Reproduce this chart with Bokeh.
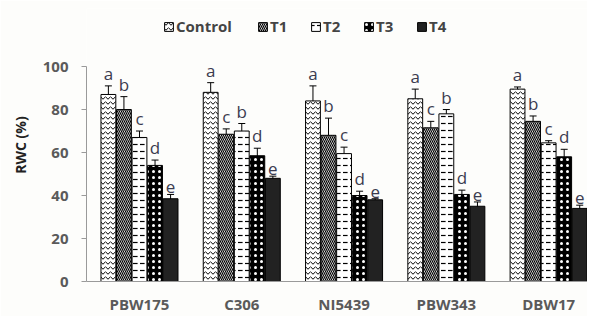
from bokeh.plotting import figure
from bokeh.models import (Range1d, FixedTicker, Whisker, ColumnDataSource, Legend,
                          LegendItem, Label, TeeHead)
from bokeh.core.properties import value
from bokeh.embed import file_html
from bokeh.resources import INLINE

# ---------------- data ----------------
categories = ["PBW175", "C306", "NI5439", "PBW343", "DBW17"]
treatments = ["Control", "T1", "T2", "T3", "T4"]

control = [87, 88, 84, 85, 89.5]
t1 = [80, 68.5, 68, 71.5, 74.5]
t2 = [67, 70, 59.5, 78, 64.5]
t3 = [54, 58.5, 40, 40.5, 58]
t4 = [38.5, 48, 38, 35, 34]

err_control = [4, 4.5, 7, 4.5, 1]
err_t1 = [6, 2.5, 8, 3, 2.5]
err_t2 = [3, 3.5, 3, 2, 1]
err_t3 = [2.5, 3.5, 2, 2, 3.5]
err_t4 = [2, 1, 0.5, 2, 1.5]

let_control = ["a", "a", "a", "a", "a"]
let_t1 = ["b", "c", "b", "c", "b"]
let_t2 = ["c", "b", "c", "b", "c"]
let_t3 = ["d", "d", "d", "d", "d"]
let_t4 = ["e", "e", "e", "e", "e"]

y_ticks = [0, 20, 40, 60, 80, 100]

values = [control, t1, t2, t3, t4]
errors = [err_control, err_t1, err_t2, err_t3, err_t4]
letters = [let_control, let_t1, let_t2, let_t3, let_t4]

# ---------------- styles ----------------
FONT = "Open Sans"
AX = "#9a9a9a"
styles = [
    dict(fill_color="white", hatch_pattern="horizontal_wave", hatch_color="black", hatch_scale=5, hatch_weight=1),
    dict(fill_color="white", hatch_pattern="left_diagonal_line", hatch_color="black", hatch_scale=4, hatch_weight=1.2),
    dict(fill_color="white", hatch_pattern="horizontal_dash", hatch_color="black", hatch_scale=7, hatch_weight=1.2),
    dict(fill_color="black", hatch_pattern="dot", hatch_color="white", hatch_scale=6, hatch_weight=1.5),
    dict(fill_color="#222222"),
]

p = figure(width=587, height=316,
           x_range=Range1d(-0.518, 4.38), y_range=Range1d(0, 127),
           output_backend="svg", toolbar_location=None,
           min_border_left=86, min_border_right=0, min_border_top=8, min_border_bottom=33)
p.outline_line_color = None
p.xgrid.visible = False
p.ygrid.visible = False
p.background_fill_color = "#fdfdfb"
p.border_fill_color = "#fdfdfb"

step = 0.152
items = []
for j, name in enumerate(treatments):
    xs = [i + (j - 2) * step for i in range(len(categories))]
    tops = values[j]
    errs = errors[j]
    src = ColumnDataSource(dict(
        x=xs, top=tops,
        upper=[t + e for t, e in zip(tops, errs)],
        lower=[t - e for t, e in zip(tops, errs)],
        letter=letters[j],
    ))
    r = p.vbar(x="x", top="top", width=0.145, source=src,
               line_color="black", line_width=1, **styles[j])
    items.append(LegendItem(label=name, renderers=[r]))
    w = Whisker(source=src, base="x", upper="upper", lower="lower",
                line_color="black", line_width=1,
                upper_head=TeeHead(size=7, line_color="black", line_width=1),
                lower_head=TeeHead(size=7, line_color="black", line_width=1))
    p.add_layout(w)
    p.text(x="x", y="upper", text="letter", source=src,
           text_align="center", text_baseline="bottom", y_offset=-1,
           text_font=value(FONT), text_font_size="17px", text_color="#3b3b4f")

leg_kw = dict(orientation="horizontal",
              label_text_font=FONT, label_text_font_size="15px",
              label_text_font_style="bold",
              label_text_color="#444444", glyph_width=11, glyph_height=11,
              label_standoff=2, spacing=20, padding=0, margin=0,
              border_line_color=None, background_fill_alpha=0)
legend_a = Legend(items=items[:1], location=(77, 245), **leg_kw)
legend_b = Legend(items=items[1:], location=(171, 245), **leg_kw)
p.add_layout(legend_a, "center")
p.add_layout(legend_b, "center")

# y axis
p.yaxis.ticker = FixedTicker(ticks=y_ticks)
p.yaxis.bounds = (0, 100)
p.yaxis.axis_line_color = AX
p.yaxis.major_tick_line_color = AX
p.yaxis.major_tick_out = 5
p.yaxis.major_tick_in = 0
p.yaxis.minor_tick_line_color = None
p.yaxis.major_label_text_font = FONT
p.yaxis.major_label_text_font_size = "15px"
p.yaxis.major_label_text_font_style = "bold"
p.yaxis.major_label_text_color = "#5a5a5a"
p.yaxis.major_label_standoff = 13
p.yaxis.axis_label = "RWC (%)"
p.yaxis.axis_label_text_font = FONT
p.yaxis.axis_label_text_font_style = "bold"
p.yaxis.axis_label_text_font_size = "14px"
p.yaxis.axis_label_text_color = "#222222"
p.yaxis.axis_label_standoff = 10

# x axis
p.xaxis.ticker = FixedTicker(ticks=list(range(len(categories))))
p.xaxis.major_label_overrides = {i: c for i, c in enumerate(categories)}
p.xaxis.axis_line_color = AX
p.xaxis.major_tick_line_color = None
p.xaxis.major_tick_out = 0
p.xaxis.major_tick_in = 0
p.xaxis.minor_tick_line_color = None
p.xaxis.major_label_text_font = FONT
p.xaxis.major_label_text_font_size = "15px"
p.xaxis.major_label_text_font_style = "bold"
p.xaxis.major_label_text_color = "#5a5a5a"
p.xaxis.major_label_standoff = 12

p.add_layout(Label(x=6, y=36, x_units="canvas", y_units="canvas",
                   text="c", text_font=FONT, text_font_size="15px",
                   text_font_style="bold", text_color="#333333"))

open("out.html", "w").write(file_html(p, INLINE))
